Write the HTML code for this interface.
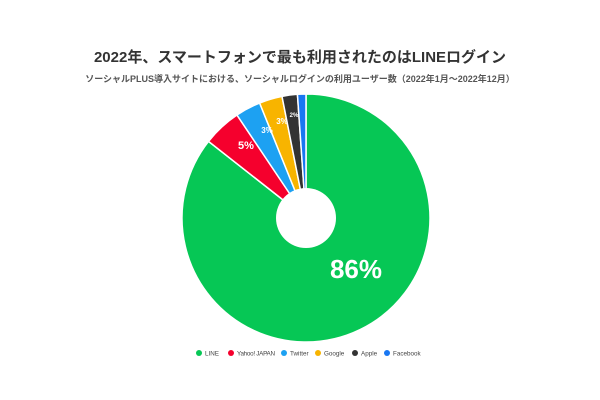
<!DOCTYPE html>
<html><head><meta charset="utf-8"><style>
html,body{margin:0;padding:0;background:#fff;width:600px;height:400px;overflow:hidden}
svg{display:block}
text{font-family:"Liberation Sans","Noto Sans CJK JP",sans-serif}
</style></head><body>
<svg id="s" width="600" height="400" viewBox="0 0 600 400">
<text x="300" y="62" text-anchor="middle" font-size="15" font-weight="bold" fill="#333">2022年、スマートフォンで最も利用されたのはLINEログイン</text>
<text x="300" y="82" text-anchor="middle" font-size="9" font-weight="bold" fill="#555">ソーシャルPLUS導入サイトにおける、ソーシャルログインの利用ユーザー数（2022年1月〜2022年12月）</text>
<g id="pie"></g>
<circle cx="306" cy="218" r="30" fill="#fff"/>
<text x="356" y="278" text-anchor="middle" font-size="26" font-weight="bold" fill="#fff">86%</text>
<text x="246" y="149" text-anchor="middle" font-size="11" font-weight="bold" fill="#fff">5%</text>
<text x="267" y="133" text-anchor="middle" font-size="8" font-weight="bold" fill="#fff">3%</text>
<text x="282" y="124" text-anchor="middle" font-size="8" font-weight="bold" fill="#fff">3%</text>
<text x="294" y="117" text-anchor="middle" font-size="6" font-weight="bold" fill="#fff">2%</text>
<g font-size="6.3" fill="#444">
<circle cx="199" cy="353" r="3" fill="#06c755"/><text x="205" y="355.3">LINE</text>
<circle cx="231" cy="353" r="3" fill="#f5002d"/><text x="237" y="355.3" textLength="38">Yahoo! JAPAN</text>
<circle cx="284" cy="353" r="3" fill="#1da1f2"/><text x="290" y="355.3">Twitter</text>
<circle cx="318" cy="353" r="3" fill="#f8b400"/><text x="324" y="355.3">Google</text>
<circle cx="355" cy="353" r="3" fill="#333"/><text x="361" y="355.3">Apple</text>
<circle cx="387" cy="353" r="3" fill="#1877f2"/><text x="393" y="355.3">Facebook</text>
</g>
</svg>
<script>
var d=[[85.6,"#06c755"],[5.0,"#f5002d"],[3.3,"#1da1f2"],[3.0,"#f8b400"],[2.0,"#333"],[1.1,"#1877f2"]];
var cx=306,cy=218,r=124,a=0,g=document.getElementById("pie"),h="";
d.forEach(function(e){var a2=a+e[0]/100*2*Math.PI;
var x1=cx+r*Math.sin(a),y1=cy-r*Math.cos(a),x2=cx+r*Math.sin(a2),y2=cy-r*Math.cos(a2);
h+='<path d="M'+cx+','+cy+'L'+x1+','+y1+'A'+r+','+r+' 0 '+(a2-a>Math.PI?1:0)+' 1 '+x2+','+y2+'Z" fill="'+e[1]+'" stroke="#fff" stroke-width="1.5"/>';a=a2;});
g.innerHTML=h;
</script>
</body></html>
